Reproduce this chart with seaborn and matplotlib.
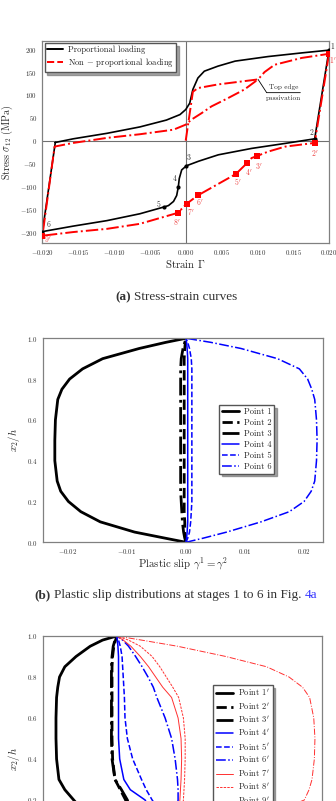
import matplotlib
matplotlib.use("Agg")
import matplotlib.pyplot as plt
import seaborn as sns
from matplotlib.lines import Line2D

# ---- panel (a): stress-strain loops ----
black_strain = [-0.0182, -0.0157, -0.011, -0.0064, -0.0027, -0.0008, 0.0, 0.00056, 0.001,
                0.0017, 0.0026, 0.0045, 0.0069, 0.0115, 0.0162, 0.02, 0.018, 0.0139, 0.0092,
                0.00455, 0.0018, 0.0001, -0.00056, -0.0009, -0.00103, -0.00126, -0.0017,
                -0.0024, -0.003, -0.0064, -0.011, -0.0157, -0.02, -0.0182]
black_stress = [-4, 4, 16, 30, 45, 57, 68, 82, 112, 137, 152, 163, 174, 184, 192, 198, 4, -6,
                -17, -31, -45, -55, -64, -83, -101, -120, -133, -142, -145, -160, -175, -187,
                -199, -4]
red_load_strain = [0.0, 0.001, 0.0017, 0.0045, 0.0101, 0.011, 0.0124, 0.0162, 0.02]
red_load_stress = [0, 107, 115, 123, 134, 150, 166, 181, 190]
red_cycle_strain = [0.02, 0.018, 0.0139, 0.0115, 0.0099, 0.0092, 0.0085, 0.007, 0.00167,
                    0.00014, -0.0011, -0.0064, -0.011, -0.0157, -0.02, -0.0183, -0.0157,
                    -0.011, -0.0064, -0.0017, 0.0, 0.0008, 0.0022, 0.0036, 0.0059, 0.0082,
                    0.0101]
red_cycle_stress = [190, -5, -13, -24, -34, -38, -50, -73, -120, -138, -158, -182, -193, -200,
                    -208, -13, -5, 6, 14, 24, 35, 46, 60, 75, 93, 112, 134]
stage_strain = [0.02, 0.018, 0.0001, -0.00103, -0.003, -0.02]
stage_stress = [198, 4, -55, -101, -145, -199]
stage_names = ["1", "2", "3", "4", "5", "6"]
stage_np_strain = [0.02, 0.018, 0.0099, 0.0085, 0.007, 0.00167, 0.00014, -0.0011, -0.02]
stage_np_stress = [190, -5, -34, -50, -73, -120, -138, -158, -208]
stage_np_names = [r"$%d^{\prime}$" % i for i in range(1, 10)]
passivation = (0.0101, 134)

# ---- panels (b) and (c): slip through the thickness ----
x2h = [0, 0.02, 0.05, 0.1, 0.15, 0.2, 0.25, 0.3, 0.4, 0.5, 0.6, 0.7, 0.75, 0.8, 0.85, 0.9,
       0.95, 0.98, 1.0]
slip_p1 = [0, -0.0035, -0.0087, -0.0145, -0.0178, -0.0199, -0.0212, -0.0218, -0.0222, -0.0222,
           -0.0221, -0.0217, -0.021, -0.0197, -0.0175, -0.0141, -0.0079, -0.0034, 0]
slip_p2 = [0, -0.0001, -0.0002, -0.0002, -0.0003, -0.0003, -0.0003, -0.0003, -0.0003, -0.0003,
           -0.0003, -0.0003, -0.0003, -0.0003, -0.0003, -0.0003, -0.0002, -0.0001, 0]
slip_p3 = [0, -0.0002, -0.0004, -0.0006, -0.0007, -0.0008, -0.0009, -0.0009, -0.0009, -0.0009,
           -0.0009, -0.0009, -0.0009, -0.0009, -0.0009, -0.0008, -0.0005, -0.0002, 0]
slip_p4 = [0, 0.0001, 0.0002, 0.0003, 0.0003, 0.0003, 0.0003, 0.0003, 0.0003, 0.0003, 0.0003,
           0.0003, 0.0003, 0.0003, 0.0003, 0.0003, 0.0002, 0.0001, 0]
slip_p5 = [0, 0.0003, 0.0006, 0.0008, 0.0009, 0.001, 0.001, 0.001, 0.001, 0.001, 0.001, 0.001,
           0.001, 0.001, 0.001, 0.0009, 0.0006, 0.0003, 0]
slip_p6 = [0, 0.0029, 0.0069, 0.0127, 0.0175, 0.02, 0.0212, 0.0218, 0.0221, 0.0222, 0.0221,
           0.0218, 0.0213, 0.0206, 0.0192, 0.0155, 0.0093, 0.0042, 0]

slip_q1 = [0, -0.0009, -0.0022, -0.0042, -0.0058, -0.0073, -0.0088, -0.0098, -0.0102, -0.0103,
           -0.0103, -0.0102, -0.01, -0.0097, -0.0088, -0.0069, -0.0045, -0.0024, 0]
slip_q2 = [0, 0.0004, 0.001, 0.0017, 0.0019, 0.0015, 0.0006, -0.0003, -0.0007, -0.0008, -0.0008,
           -0.0008, -0.0008, -0.0008, -0.0008, -0.0007, -0.0005, -0.0002, 0]
slip_q3 = [0, 0.0005, 0.0012, 0.002, 0.0022, 0.0018, 0.0008, -0.0003, -0.0008, -0.0009, -0.0009,
           -0.0009, -0.0009, -0.0009, -0.0009, -0.0008, -0.0006, -0.0003, 0]
slip_q4 = [0, 0.0015, 0.0035, 0.0055, 0.0058, 0.0048, 0.0023, 0.0012, 0.0005, 0.0003, 0.0003,
           0.0003, 0.0003, 0.0003, 0.0003, 0.0003, 0.0002, 0.0001, 0]
slip_q5 = [0, 0.002, 0.0045, 0.0068, 0.0072, 0.006, 0.005, 0.0042, 0.0027, 0.0018, 0.0014,
           0.0013, 0.0012, 0.0011, 0.001, 0.0009, 0.0006, 0.0003, 0]
slip_q6 = [0, 0.003, 0.0065, 0.0095, 0.0102, 0.0104, 0.0104, 0.0103, 0.0099, 0.0093, 0.0082,
           0.0068, 0.0062, 0.0053, 0.0043, 0.0032, 0.002, 0.001, 0]
slip_q7 = [0, 0.003, 0.007, 0.0098, 0.0105, 0.0107, 0.0108, 0.0109, 0.011, 0.0109, 0.0104,
           0.0093, 0.0078, 0.0066, 0.0054, 0.004, 0.0024, 0.0011, 0]
slip_q8 = [0, 0.0033, 0.0075, 0.0104, 0.0111, 0.0113, 0.0114, 0.0115, 0.0116, 0.0116, 0.0113,
           0.0105, 0.0095, 0.0084, 0.0073, 0.006, 0.004, 0.002, 0]
slip_q9 = [0, 0.006, 0.0135, 0.022, 0.0275, 0.0318, 0.0326, 0.0331, 0.0335, 0.0336, 0.0334,
           0.0327, 0.0315, 0.0292, 0.0254, 0.0185, 0.0103, 0.0042, 0]

sns.set_style("white")
plt.rcParams["font.family"] = ["cmr10"]
plt.rcParams["mathtext.fontset"] = "cm"
plt.rcParams["axes.formatter.use_mathtext"] = True

W, H = 336, 801
fig = plt.figure(figsize=(W / 100, H / 100), dpi=100)
ax_a = fig.add_axes([0.1262, 0.6966, 0.853, 0.2522])
ax_b = fig.add_axes([0.128, 0.323, 0.8333, 0.2547])
ax_c = fig.add_axes([0.128, -0.0499, 0.8304, 0.2559])

GREY = "#808080"
LEGEND_KW = dict(fontsize=6.2, fancybox=False, framealpha=1, edgecolor="#555555",
                 shadow={"color": "#6a6a6a", "alpha": 0.6}, borderpad=0.3,
                 handletextpad=0.6)


def style(ax):
    for s in ax.spines.values():
        s.set_color(GREY)
        s.set_linewidth(0.9)
    ax.tick_params(direction="out", length=2.2, width=0.6, color="#555555",
                   labelsize=5, labelcolor="#333333", pad=1.5)


def curve(ax, x, y, **kw):
    sns.lineplot(x=x, y=y, sort=False, estimator=None, ax=ax, **kw)
    return ax.lines[-1]


# (a) stress-strain
ax = ax_a
style(ax)
ax.axhline(0, color="#707070", lw=0.8, zorder=0)
ax.axvline(0, color="#707070", lw=0.8, zorder=0)
curve(ax, black_strain, black_stress, color="black", lw=1.2)
curve(ax, red_load_strain, red_load_stress, color="red", lw=1.4, linestyle="-.")
curve(ax, red_cycle_strain, red_cycle_stress, color="red", lw=1.4, linestyle="-.")
sns.scatterplot(x=stage_strain, y=stage_stress, ax=ax, color="black", s=9, linewidth=0,
                zorder=5)
sns.scatterplot(x=stage_np_strain, y=stage_np_stress, ax=ax, color="red", marker="s", s=14,
                linewidth=0, zorder=5)
black_offsets = [(2.2, 2.7), (-2.4, 4.3), (1.9, 6.0), (-2.4, 6.0), (-4.1, 1.2), (4.5, 4.8)]
red_offsets = [(2.9, -4.8), (0, -7.6), (1.9, -7.4), (1.7, -6.8), (1.4, -5.3), (1.7, -5.5),
               (2.9, -6.5), (-0.4, -7.2), (4.0, -2.9)]
for x, y, t, off in zip(stage_strain, stage_stress, stage_names, black_offsets):
    ax.annotate(t, (x, y), xytext=off, textcoords="offset points", ha="center",
                va="center", fontsize=5.5, color="#333333")
for x, y, t, off in zip(stage_np_strain, stage_np_stress, stage_np_names, red_offsets):
    ax.annotate(t, (x, y), xytext=off, textcoords="offset points", ha="center",
                va="center", fontsize=5.5, color="#ee4444")
ax.annotate("", xy=passivation, xytext=(0.0113, 105),
            arrowprops=dict(arrowstyle="-", color="black", lw=0.6, shrinkA=0, shrinkB=0))
ax.annotate("", xy=(0.0113, 105), xytext=(0.016, 105),
            arrowprops=dict(arrowstyle="-", color="black", lw=0.6, shrinkA=0, shrinkB=0))
ax.text(0.01362, 117, "Top edge", ha="center", va="center", fontsize=5.2)
ax.text(0.01362, 93, "passivation", ha="center", va="center", fontsize=5.2)
ax.set_xlim(-0.02, 0.02)
ax.set_ylim(-224, 218)
ax.set_xticks([-0.02, -0.015, -0.01, -0.005, 0.0, 0.005, 0.01, 0.015, 0.02])
ax.set_yticks([-200, -150, -100, -50, 0, 50, 100, 150, 200])
ax.set_xlabel(r"Strain $\Gamma$", fontsize=7.8)
ax.set_ylabel(r"Stress $\sigma_{12}$ (MPa)", fontsize=7.2)
ax.xaxis.set_label_coords(0.5, -0.072)
ax.yaxis.set_label_coords(-0.097, 0.5)
handles = [Line2D([], [], color="black", lw=1.4),
           Line2D([], [], color="red", lw=1.4, linestyle="--")]
ax.legend(handles, ["Proportional loading", r"Non $-$ proportional loading"],
          loc="upper left", handlelength=1.8, borderaxespad=0.25, labelspacing=0.25,
          **LEGEND_KW)

# (b) plastic slip, proportional loading
ax = ax_b
style(ax)
b_lines = [
    curve(ax, slip_p2, x2h, color="black", lw=2.0, linestyle="--"),
    curve(ax, slip_p1, x2h, color="black", lw=2.0),
    curve(ax, slip_p3, x2h, color="black", lw=2.0, linestyle="-."),
    curve(ax, slip_p4, x2h, color="blue", lw=1.1),
    curve(ax, slip_p5, x2h, color="blue", lw=1.1, linestyle="--"),
    curve(ax, slip_p6, x2h, color="blue", lw=1.1, linestyle="-."),
]
b_lines = [b_lines[1], b_lines[0]] + b_lines[2:]
ax.set_xlim(-0.0242, 0.0232)
ax.set_ylim(0, 1)
ax.set_xticks([-0.02, -0.01, 0.0, 0.01, 0.02])
ax.set_yticks([0, 0.2, 0.4, 0.6, 0.8, 1.0])
ax.set_xlabel(r"Plastic slip $\gamma^1 = \gamma^2$", fontsize=7.8)
ax.set_ylabel(r"$x_2/h$", fontsize=7.8)
ax.xaxis.set_label_coords(0.5, -0.067)
ax.yaxis.set_label_coords(-0.075, 0.5)
ax.legend(b_lines, ["Point %d" % i for i in range(1, 7)], loc="upper left",
          bbox_to_anchor=(0.629, 0.673), handlelength=2.0, borderaxespad=0,
          labelspacing=0.3, **LEGEND_KW)

# (c) plastic slip, non-proportional loading
ax = ax_c
style(ax)
c_specs = [
    (slip_q2, "black", 2.0, "--"),
    (slip_q1, "black", 2.0, "-"),
    (slip_q3, "black", 2.0, "-."),
    (slip_q4, "blue", 1.1, "-"),
    (slip_q5, "blue", 1.1, "--"),
    (slip_q6, "blue", 1.1, "-."),
    (slip_q7, "#ff3030", 0.7, "-"),
    (slip_q8, "#ff3030", 0.7, (0, (2.5, 1.2))),
    (slip_q9, "#ff3030", 0.7, "-."),
]
c_lines = [curve(ax, xs, x2h, color=c, lw=lw, linestyle=ls) for xs, c, lw, ls in c_specs]
c_lines = [c_lines[1], c_lines[0]] + c_lines[2:]
ax.set_xlim(-0.0125, 0.0348)
ax.set_ylim(0, 1)
ax.set_yticks([0, 0.2, 0.4, 0.6, 0.8, 1.0])
ax.set_ylabel(r"$x_2/h$", fontsize=7.8)
ax.yaxis.set_label_coords(-0.075, 0.4)
ax.legend(c_lines, [r"Point $%d^{\prime}$" % i for i in range(1, 10)], loc="upper left",
          bbox_to_anchor=(0.61, 0.761), handlelength=2.0, borderaxespad=0,
          labelspacing=0.3, **LEGEND_KW)


def caption(parts, y_px, xc_px=176, gap=3.3):
    r = fig.canvas.get_renderer()
    texts = [fig.text(0, 1 - y_px / H, s, fontsize=9.5, family="Liberation Serif",
                      va="center", color=kw.pop("color", "#333333"), **kw)
             for s, kw in parts]
    widths = [t.get_window_extent(r).width for t in texts]
    x = xc_px - (sum(widths) + gap * (len(texts) - 1)) / 2
    for t, w in zip(texts, widths):
        t.set_x(x / W)
        x += w + gap


caption([("(a)", {"fontweight": "bold"}), ("Stress-strain curves", {})], 297)
caption([("(b)", {"fontweight": "bold"}),
         ("Plastic slip distributions at stages 1 to 6 in Fig.", {}),
         ("4a", {"color": "#3535ff"})], 595)

fig.savefig("out.png", dpi=100)
